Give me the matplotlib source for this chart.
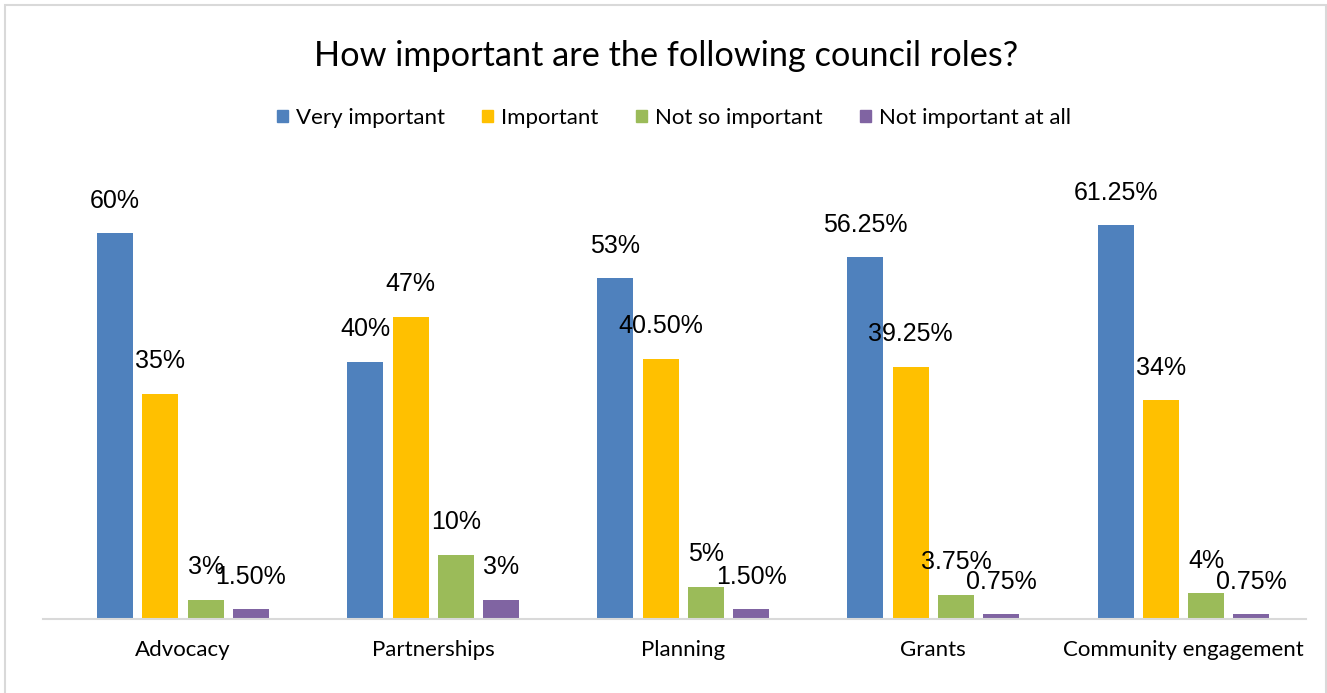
import matplotlib.pyplot as plt
import numpy as np
from matplotlib.patches import Rectangle, Patch

roles = ["Advocacy", "Partnerships", "Planning", "Grants", "Community engagement"]
series_names = ["Very important", "Important", "Not so important", "Not important at all"]
very_important = [60, 40, 53, 56.25, 61.25]
important = [35, 47, 40.50, 39.25, 34]
not_so_important = [3, 10, 5, 3.75, 4]
not_at_all = [1.50, 3, 1.50, 0.75, 0.75]
# labels as written on the chart
very_labels = ["60%", "40%", "53%", "56.25%", "61.25%"]
imp_labels = ["35%", "47%", "40.50%", "39.25%", "34%"]
notso_labels = ["3%", "10%", "5%", "3.75%", "4%"]
notall_labels = ["1.50%", "3%", "1.50%", "0.75%", "0.75%"]

colors = ["#4F81BD", "#FFC000", "#9BBB59", "#8064A2"]
ui_font = ["Lato", "DejaVu Sans"]
num_font = ["Liberation Sans", "DejaVu Sans"]

W, H = 1327, 693
fig = plt.figure(figsize=(W / 100, H / 100), dpi=100)

# chart frame
fig.add_artist(Rectangle((5 / W, -0.05), 1321 / W, 1 - 5 / H + 0.05,
                         transform=fig.transFigure, fill=False,
                         edgecolor="#D9D9D9", linewidth=1.5))

ax = fig.add_axes([43 / W, 74 / H, (1306 - 43) / W, (619 - 169) / H])
x = np.arange(len(roles))
width = 0.144
step = 0.181

all_vals = [very_important, important, not_so_important, not_at_all]
all_labels = [very_labels, imp_labels, notso_labels, notall_labels]
for i, (vals, labs) in enumerate(zip(all_vals, all_labels)):
    pos = x + (i - 1.5) * step
    ax.bar(pos, vals, width, color=colors[i], label=series_names[i])
    for p, v, lab in zip(pos, vals, labs):
        ax.annotate(lab, (p, v), xytext=(0, 23.5), textcoords="offset points",
                    ha="center", va="center", fontsize=18,
                    family=num_font, color="#000000")

ax.set_xlim(-0.56, 4.49)
ax.set_ylim(0, 70)
ax.set_yticks([])
ax.set_xticks(x)
ax.set_xticklabels(roles, family=ui_font, fontsize=16)
ax.tick_params(axis="x", length=0, pad=15)
for s in ["top", "right", "left"]:
    ax.spines[s].set_visible(False)
ax.spines["bottom"].set_color("#D9D9D9")
ax.spines["bottom"].set_linewidth(1.5)

fig.text(666 / W, 1 - 56 / H, "How important are the following council roles?",
         ha="center", va="center", fontsize=24.7, family=ui_font)

handles = [Patch(facecolor=c, edgecolor=c) for c in colors]
fig.legend(handles, series_names, loc="center", bbox_to_anchor=(674 / W, 1 - 118 / H),
           ncol=4, frameon=False, prop={"family": ui_font, "size": 16},
           handlelength=0.5, handleheight=0.5, handletextpad=0.36, columnspacing=1.67)

fig.savefig("out.png", dpi=100)
